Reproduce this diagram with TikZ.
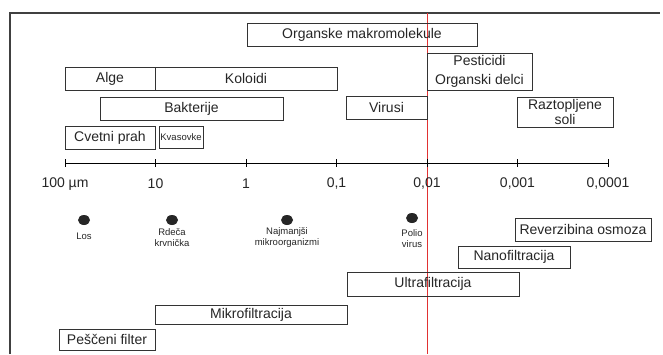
\documentclass[tikz,border=0pt]{standalone}
\usepackage{fontspec}
\setmainfont{Liberation Sans}
\usetikzlibrary{positioning,shapes.geometric}

\definecolor{redline}{RGB}{225,50,50}

\tikzset{
  box/.style={draw=black!80, line width=1pt, inner sep=0pt, font=\fontsize{14}{19}\selectfont, text=black!85},
  tiny/.style={font=\fontsize{9.5}{11}\selectfont, text=black!85, align=center, inner sep=0pt},
  blob/.style={fill=black!85, ellipse, minimum width=12pt, minimum height=10pt, inner sep=0pt}
}

\begin{document}
\begin{tikzpicture}[x=1pt,y=-1pt]
\useasboundingbox[fill=white] (0,0) rectangle (663,354);

% frame
\draw[line width=1.5pt, black!75] (10,354) -- (10,13) -- (660,13);

% red line at 0,01
\draw[redline, line width=1pt] (427,13) -- (427,354);

% axis
\draw[line width=0.8pt] (65,163) -- (608,163);
\foreach \x/\t in {65/{100 µm},155.5/10,246/1,336.5/{0,1},427/{0,01},517.5/{0,001},608/{0,0001}}{
  \draw[line width=0.8pt] (\x,159) -- (\x,167);
  \node[font=\fontsize{14}{16}\selectfont, text=black!85] at (\x,184) {\t};
}

% particles
\node[box, minimum width=230pt, minimum height=23pt] (makro) at (362,34.5) {Organske makromolekule};
\node[box, minimum width=90pt, minimum height=23pt] (alge) at (110,78.5) {Alge};
\node[box, minimum width=182pt, minimum height=23pt] (koloidi) at (246,78.5) {Koloidi};
\node[box, minimum width=105pt, minimum height=37pt, align=center] (pesticidi) at (479.5,71.5) {Pesticidi\\Organski delci};
\node[box, minimum width=183pt, minimum height=23pt] (bakterije) at (191.5,108.5) {Bakterije};
\node[box, minimum width=81pt, minimum height=23pt] (virusi) at (386.5,107.5) {Virusi};
\node[box, minimum width=96pt, minimum height=30pt, align=center, font=\fontsize{14}{15}\selectfont] (soli) at (565,112) {Raztopljene\\soli};
\node[box, minimum width=90pt, minimum height=23pt] (cvetni) at (110,137.5) {Cvetni prah};
\node[box, minimum width=44pt, minimum height=22pt, font=\fontsize{9.5}{10}\selectfont] (kvasovke) at (181,137) {Kvasovke};

% examples
\node[blob] (los) at (84,220) {};
\node[blob] (krvnicka) at (172,220) {};
\node[blob] (najmanjsi) at (287,220) {};
\node[blob] (polio) at (412,218) {};
\node[tiny] (loslbl) at (84,236) {Los};
\node[tiny] (krvnickalbl) at (172,237.5) {Rdeča\\krvnička};
\node[tiny] (najmanjsilbl) at (287,237.5) {Najmanjši\\mikroorganizmi};
\node[tiny] (poliolbl) at (412,238.5) {Polio\\virus};

% filtration processes
\node[box, minimum width=136pt, minimum height=23pt] (osmoza) at (583,229.5) {Reverzibina osmoza};
\node[box, minimum width=112pt, minimum height=22pt] (nano) at (514,257) {Nanofiltracija};
\node[box, minimum width=172pt, minimum height=24pt] (ultra) at (433,284) {Ultrafiltracija};
\node[box, minimum width=192pt, minimum height=19pt] (mikro) at (251,314.5) {Mikrofiltracija};
\node[box, minimum width=96pt, minimum height=21pt] (pesceni) at (107,339.5) {Peščeni filter};
\end{tikzpicture}
\end{document}
